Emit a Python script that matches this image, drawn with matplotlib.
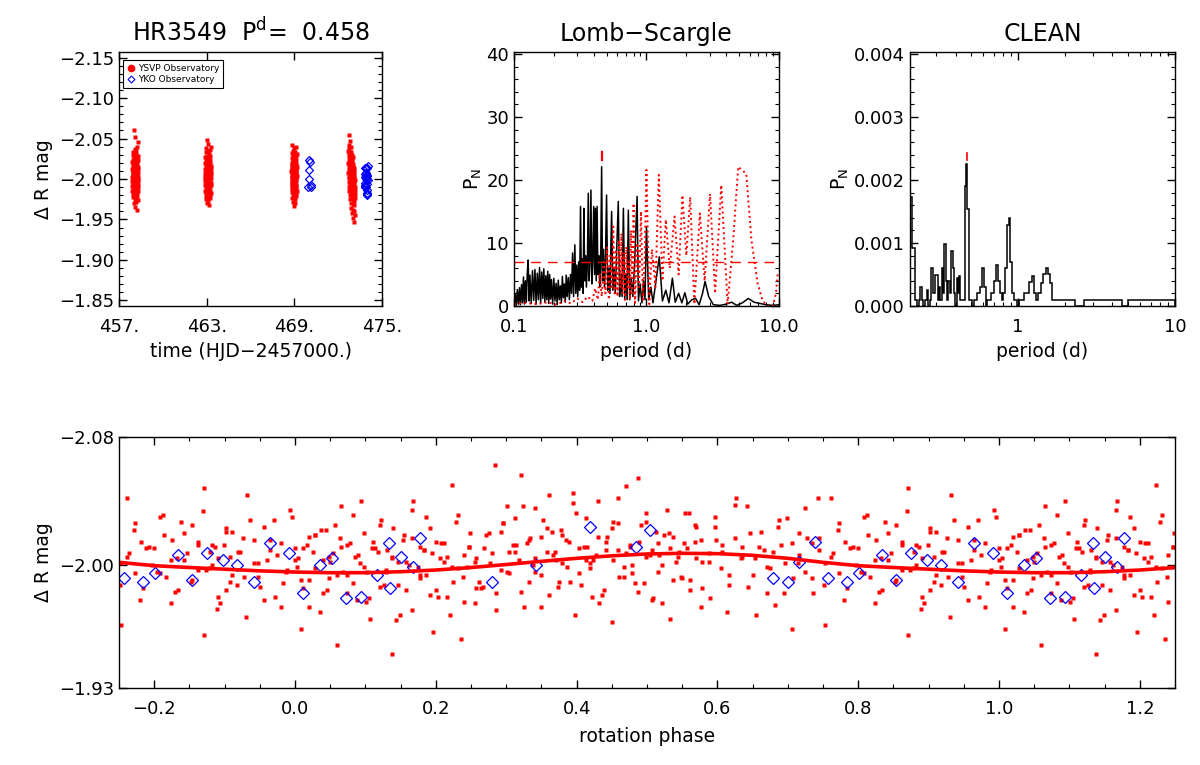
import numpy as np
import matplotlib
matplotlib.use("Agg")
import matplotlib.pyplot as plt
from matplotlib.lines import Line2D
from matplotlib.ticker import MultipleLocator, FixedLocator, FuncFormatter, LogLocator, NullFormatter

# ---------------- data ----------------
star = "HR3549"
period = 0.458          # days
t_epoch = 457.900       # HJD-2457000 of phase zero

# YSVP photometry, four nights (time = HJD-2457000, delta R mag)
n1_t = [457.900, 457.904, 457.908, 457.913, 457.917, 457.921, 457.925, 457.929, 457.934, 457.938,
        457.942, 457.946, 457.950, 457.955, 457.959, 457.963, 457.967, 457.971, 457.976, 457.980,
        457.984, 457.988, 457.992, 457.997, 458.001, 458.005, 458.009, 458.013, 458.018, 458.022,
        458.026, 458.030, 458.034, 458.039, 458.043, 458.047, 458.051, 458.055, 458.060, 458.064,
        458.068, 458.072, 458.076, 458.081, 458.085, 458.089, 458.093, 458.097, 458.102, 458.106,
        458.110, 458.114, 458.118, 458.123, 458.127, 458.131, 458.135, 458.139, 458.144, 458.148,
        458.152, 458.156, 458.160, 458.165, 458.169, 458.173, 458.177, 458.181, 458.186, 458.190,
        458.194, 458.198, 458.202, 458.207, 458.211, 458.215, 458.219, 458.223, 458.228, 458.232,
        458.236, 458.240, 458.244, 458.249, 458.253, 458.257, 458.261, 458.265, 458.270, 458.274,
        458.278, 458.282, 458.286, 458.291, 458.295, 458.299, 458.303, 458.307, 458.312, 458.316]
n1_m = [-2.003, -1.991, -2.012, -1.998, -2.021, -1.985, -2.007, -2.016, -1.994, -2.030,
        -2.001, -1.978, -2.010, -2.024, -1.996, -2.005, -1.988, -2.018, -2.033, -1.999,
        -2.009, -1.982, -2.014, -2.002, -1.970, -2.026, -1.993, -2.011, -2.004, -1.987,
        -2.019, -2.060, -1.997, -2.008, -2.028, -1.984, -2.013, -2.000, -1.975, -2.022,
        -2.006, -1.990, -2.015, -2.037, -1.995, -2.003, -1.981, -2.017, -2.009, -1.966,
        -2.025, -1.999, -2.012, -2.052, -1.989, -2.006, -2.020, -1.977, -2.010, -2.002,
        -1.992, -2.031, -2.014, -1.986, -2.007, -2.023, -1.998, -1.972, -2.016, -2.004,
        -2.035, -1.994, -2.011, -1.983, -2.008, -2.027, -2.001, -1.962, -2.019, -1.996,
        -2.013, -2.040, -1.988, -2.005, -2.021, -1.979, -2.010, -2.000, -2.029, -1.993,
        -2.015, -1.985, -2.003, -2.024, -1.997, -2.046, -2.008, -1.974, -2.012, -1.990]

n2_t = [462.880, 462.884, 462.888, 462.893, 462.897, 462.901, 462.905, 462.909, 462.914, 462.918,
        462.922, 462.926, 462.930, 462.935, 462.939, 462.943, 462.947, 462.951, 462.956, 462.960,
        462.964, 462.968, 462.972, 462.977, 462.981, 462.985, 462.989, 462.993, 462.998, 463.002,
        463.006, 463.010, 463.014, 463.019, 463.023, 463.027, 463.031, 463.035, 463.040, 463.044,
        463.048, 463.052, 463.056, 463.061, 463.065, 463.069, 463.073, 463.077, 463.082, 463.086,
        463.090, 463.094, 463.098, 463.103, 463.107, 463.111, 463.115, 463.119, 463.124, 463.128,
        463.132, 463.136, 463.140, 463.145, 463.149, 463.153, 463.157, 463.161, 463.166, 463.170,
        463.174, 463.178, 463.182, 463.187, 463.191, 463.195, 463.199, 463.203, 463.208, 463.212,
        463.216, 463.220, 463.224, 463.229, 463.233, 463.237, 463.241, 463.245, 463.250, 463.254,
        463.258, 463.262, 463.266, 463.271, 463.275, 463.279, 463.283, 463.287, 463.292, 463.296]
n2_m = [-1.997, -2.012, -2.004, -1.985, -2.020, -2.008, -1.993, -2.027, -2.001, -1.979,
        -2.015, -2.006, -1.989, -2.033, -1.999, -2.010, -1.975, -2.018, -2.003, -1.992,
        -2.024, -2.011, -1.983, -2.005, -2.038, -1.996, -2.014, -1.987, -2.009, -2.022,
        -1.970, -2.002, -2.016, -1.994, -2.029, -2.007, -1.981, -2.013, -2.048, -1.998,
        -2.006, -2.019, -1.986, -2.010, -2.001, -1.973, -2.025, -1.995, -2.012, -2.035,
        -1.990, -2.004, -2.017, -1.982, -2.008, -2.021, -1.999, -2.043, -1.988, -2.011,
        -2.003, -1.977, -2.014, -2.026, -1.993, -2.007, -2.000, -1.984, -2.031, -2.009,
        -1.996, -2.018, -1.968, -2.005, -2.013, -1.991, -2.023, -2.002, -1.980, -2.015,
        -2.008, -1.994, -2.036, -2.011, -1.987, -2.004, -2.020, -1.999, -1.976, -2.012,
        -2.028, -1.992, -2.006, -2.016, -1.983, -2.009, -2.001, -2.040, -1.995, -2.014]

n3_t = [468.800, 468.804, 468.807, 468.811, 468.814, 468.818, 468.822, 468.825, 468.829, 468.832,
        468.836, 468.840, 468.843, 468.847, 468.850, 468.854, 468.858, 468.861, 468.865, 468.868,
        468.872, 468.876, 468.879, 468.883, 468.886, 468.890, 468.894, 468.897, 468.901, 468.904,
        468.908, 468.912, 468.915, 468.919, 468.922, 468.926, 468.930, 468.933, 468.937, 468.940,
        468.944, 468.948, 468.951, 468.955, 468.958, 468.962, 468.966, 468.969, 468.973, 468.976,
        468.980, 468.984, 468.987, 468.991, 468.994, 468.998, 469.002, 469.005, 469.009, 469.012,
        469.016, 469.020, 469.023, 469.027, 469.030, 469.034, 469.038, 469.041, 469.045, 469.048,
        469.052, 469.056, 469.059, 469.063, 469.066, 469.070, 469.074, 469.077, 469.081, 469.084,
        469.088, 469.092, 469.095, 469.099, 469.102, 469.106, 469.110, 469.113, 469.117, 469.120,
        469.124, 469.128, 469.131, 469.135, 469.138, 469.142, 469.146, 469.149, 469.153, 469.156]
n3_m = [-2.010, -1.995, -2.018, -2.003, -1.984, -2.026, -2.007, -1.991, -2.014, -2.032,
        -1.998, -2.011, -1.977, -2.020, -2.005, -1.988, -2.016, -2.042, -2.001, -1.993,
        -2.023, -2.009, -1.981, -2.013, -1.996, -2.029, -2.004, -1.986, -2.017, -2.008,
        -1.972, -2.021, -2.002, -1.994, -2.035, -2.012, -1.989, -2.006, -2.019, -1.980,
        -2.010, -2.027, -1.997, -2.004, -1.967, -2.015, -2.000, -2.038, -1.992, -2.009,
        -2.022, -1.985, -2.013, -2.005, -1.999, -2.030, -1.978, -2.011, -2.002, -1.990,
        -2.018, -2.007, -1.983, -2.025, -1.996, -2.012, -2.003, -1.975, -2.016, -2.034,
        -1.994, -2.008, -2.020, -1.987, -2.001, -2.014, -1.970, -2.010, -2.028, -1.998,
        -2.006, -1.982, -2.017, -2.003, -2.040, -1.993, -2.011, -1.989, -2.024, -2.005,
        -1.979, -2.013, -2.000, -2.019, -1.991, -2.008, -2.031, -1.985, -2.004, -2.015]

n4_t = [472.690, 472.694, 472.699, 472.703, 472.708, 472.712, 472.717, 472.721, 472.726, 472.730,
        472.735, 472.739, 472.744, 472.748, 472.753, 472.757, 472.762, 472.766, 472.771, 472.775,
        472.780, 472.784, 472.789, 472.793, 472.798, 472.802, 472.807, 472.811, 472.816, 472.820,
        472.825, 472.829, 472.834, 472.838, 472.843, 472.847, 472.852, 472.856, 472.861, 472.865,
        472.870, 472.874, 472.879, 472.883, 472.888, 472.892, 472.897, 472.901, 472.906, 472.910,
        472.915, 472.919, 472.924, 472.928, 472.933, 472.937, 472.942, 472.946, 472.951, 472.955,
        472.960, 472.964, 472.969, 472.973, 472.978, 472.982, 472.987, 472.991, 472.996, 473.000,
        473.005, 473.009, 473.014, 473.018, 473.023, 473.027, 473.032, 473.036, 473.041, 473.045,
        473.050, 473.054, 473.059, 473.063, 473.068, 473.072, 473.077, 473.081, 473.086, 473.090,
        473.095, 473.099, 473.104, 473.108, 473.113, 473.117, 473.122, 473.126, 473.131, 473.135]
n4_m = [-2.020, -2.035, -2.008, -2.054, -2.015, -1.996, -2.027, -2.042, -2.003, -2.018,
        -1.990, -2.031, -2.011, -2.001, -2.038, -1.985, -2.022, -2.009, -2.047, -1.995,
        -2.014, -2.026, -1.980, -2.006, -2.033, -2.017, -1.993, -2.010, -2.024, -1.975,
        -2.002, -2.029, -2.012, -1.988, -2.040, -2.005, -2.019, -1.970, -2.009, -1.998,
        -2.023, -1.983, -2.013, -2.001, -2.034, -1.992, -2.016, -1.964, -2.007, -2.025,
        -1.986, -2.011, -1.996, -2.030, -1.977, -2.004, -2.019, -1.990, -2.012, -1.958,
        -2.000, -1.981, -2.022, -1.994, -2.008, -1.969, -2.015, -1.987, -2.003, -2.027,
        -1.975, -1.997, -2.010, -1.962, -1.991, -2.018, -1.983, -2.005, -1.952, -1.996,
        -2.013, -1.979, -1.999, -1.968, -2.008, -1.988, -1.947, -2.002, -1.985, -1.973,
        -2.011, -1.994, -1.960, -2.004, -1.981, -1.990, -1.956, -1.999, -1.977, -1.986]

# YKO photometry (two nights)
yko_t = [469.936, 469.965, 470.000, 470.030, 470.039, 470.119, 470.129,
         473.800, 473.810, 473.819, 473.831, 473.839, 473.854, 473.863, 473.873,
         473.883, 473.892, 473.903, 473.914, 473.926, 473.935, 473.946, 473.954,
         473.963, 473.973, 473.983, 473.991, 473.992, 473.999, 474.007, 474.011]
yko_m = [-1.990, -2.000, -2.023, -2.011, -2.021, -1.992, -1.990,
         -2.002, -2.014, -1.992, -1.990, -1.995, -2.006, -1.991, -2.007,
         -2.003, -2.000, -1.990, -2.013, -2.007, -1.983, -2.000, -2.004,
         -1.980, -1.981, -1.994, -2.013, -1.986, -2.005, -1.999, -2.016]

# sinusoidal fit vs rotation phase
fit_phase = [-0.25, -0.20, -0.15, -0.10, -0.05, 0.00, 0.05, 0.10, 0.15, 0.20, 0.25,
             0.30, 0.35, 0.40, 0.45, 0.50, 0.55, 0.60, 0.65, 0.70, 0.75,
             0.80, 0.85, 0.90, 0.95, 1.00, 1.05, 1.10, 1.15, 1.20, 1.25]
fit_mag = [-2.0016, -1.9996, -1.9985, -1.9975, -1.9965, -1.9958, -1.9954, -1.9954, -1.9960, -1.9970, -1.9985,
           -2.0003, -2.0022, -2.0040, -2.0055, -2.0066, -2.0070, -2.0068, -2.0058, -2.0040, -2.0016,
           -1.9996, -1.9985, -1.9975, -1.9965, -1.9958, -1.9954, -1.9954, -1.9960, -1.9970, -1.9985]

# Lomb-Scargle periodogram
ls_period = [0.100, 0.102, 0.104, 0.106, 0.108, 0.110, 0.112, 0.114, 0.116, 0.118,
             0.120, 0.122, 0.124, 0.126, 0.128, 0.130, 0.132, 0.135, 0.138, 0.141,
             0.144, 0.147, 0.150, 0.153, 0.156, 0.159, 0.162, 0.165, 0.168, 0.171,
             0.174, 0.177, 0.180, 0.183, 0.186, 0.189, 0.192, 0.196, 0.200, 0.204,
             0.208, 0.212, 0.216, 0.220, 0.224, 0.228, 0.232, 0.236, 0.240, 0.244,
             0.248, 0.252, 0.257, 0.262, 0.267, 0.272, 0.277, 0.282, 0.288, 0.293,
             0.298, 0.303, 0.308, 0.313, 0.318, 0.323, 0.328, 0.333, 0.337, 0.342,
             0.347, 0.352, 0.358, 0.364, 0.369, 0.375, 0.381, 0.387, 0.393, 0.400,
             0.406, 0.412, 0.418, 0.424, 0.430, 0.437, 0.444, 0.451, 0.459, 0.466,
             0.474, 0.482, 0.490, 0.500, 0.510, 0.520, 0.530, 0.546, 0.558, 0.570,
             0.582, 0.597, 0.613, 0.627, 0.640, 0.655, 0.670, 0.685, 0.700, 0.715,
             0.730, 0.748, 0.768, 0.790, 0.815, 0.850, 0.870, 0.895, 0.925, 0.950,
             0.975, 1.000, 1.040, 1.080, 1.120, 1.180, 1.250, 1.320, 1.400, 1.480,
             1.570, 1.650, 1.750, 1.850, 1.950, 2.050, 2.200, 2.350, 2.500, 2.650,
             2.770, 2.950, 3.200, 3.600, 4.000, 4.400, 4.800, 5.300, 5.870, 6.500,
             7.200, 8.000, 9.000, 10.00]
ls_power = [0.2, 1.8, 0.1, 2.6, 0.3, 2.9, 0.2, 3.4, 0.5, 4.6,
            0.3, 4.0, 0.6, 5.1, 7.3, 0.8, 4.9, 0.4, 5.6, 0.9,
            5.8, 0.3, 5.2, 1.0, 6.1, 0.5, 5.4, 1.2, 5.9, 0.6,
            4.8, 1.0, 5.5, 0.4, 5.0, 1.1, 4.2, 0.3, 4.4, 0.8,
            3.6, 0.2, 4.1, 1.0, 3.2, 0.5, 4.7, 1.3, 3.5, 0.6,
            4.9, 1.5, 4.5, 1.0, 5.0, 2.0, 8.4, 1.5, 9.7, 2.0,
            6.5, 1.5, 7.0, 2.5, 15.8, 3.0, 7.5, 2.0, 15.5, 4.0,
            8.0, 3.0, 6.5, 17.9, 4.0, 7.0, 18.4, 3.5, 7.0, 15.8,
            5.0, 15.5, 4.0, 15.8, 5.0, 8.0, 3.0, 6.0, 22.1, 4.0,
            9.0, 3.0, 7.0, 17.6, 2.5, 6.0, 2.0, 15.0, 2.5, 6.0,
            2.0, 9.0, 16.6, 1.5, 5.0, 1.5, 15.5, 1.0, 5.0, 1.0,
            15.2, 1.0, 4.5, 1.5, 7.0, 17.4, 0.8, 3.5, 0.5, 4.0,
            1.0, 12.6, 1.0, 3.0, 0.5, 4.0, 7.8, 0.8, 2.5, 0.5,
            4.4, 0.6, 2.0, 0.5, 2.1, 0.3, 1.0, 1.2, 0.2, 2.0,
            3.9, 1.5, 0.2, 0.1, 0.3, 0.6, 0.1, 0.5, 1.2, 0.6,
            0.4, 0.2, 0.1, 0.2]

# spectral window (red dotted)
win_period = [0.100, 0.120, 0.150, 0.180, 0.210, 0.240, 0.270, 0.300, 0.330, 0.360,
              0.390, 0.410, 0.430, 0.445, 0.460, 0.475, 0.490, 0.505, 0.520, 0.535,
              0.550, 0.562, 0.575, 0.590, 0.605, 0.620, 0.635, 0.647, 0.660, 0.675,
              0.690, 0.705, 0.720, 0.735, 0.750, 0.765, 0.780, 0.800, 0.820, 0.850,
              0.880, 0.910, 0.940, 0.970, 1.000, 1.050, 1.100, 1.170, 1.240, 1.320,
              1.400, 1.500, 1.630, 1.750, 1.870, 2.000, 2.140, 2.300, 2.530, 2.750,
              3.020, 3.300, 3.670, 4.100, 4.500, 4.930, 5.300, 5.670, 6.200, 6.900,
              7.500, 8.100, 9.000, 9.500, 9.800]
win_power = [0.3, 0.5, 0.3, 0.6, 0.2, 0.8, 0.4, 1.2, 0.6, 1.5,
             0.8, 2.8, 1.0, 5.2, 1.5, 7.0, 2.0, 9.4, 1.0, 8.0,
             3.0, 12.6, 2.0, 9.0, 1.5, 10.5, 3.0, 11.5, 2.0, 8.5,
             1.0, 9.4, 3.0, 7.0, 1.0, 12.0, 2.0, 16.3, 0.5, 10.0,
             3.0, 15.0, 1.0, 8.0, 21.6, 0.3, 9.0, 3.0, 20.8, 4.0,
             13.7, 6.0, 14.2, 5.0, 17.6, 8.0, 17.3, 0.3, 14.7, 4.0,
             17.8, 2.0, 19.2, 0.3, 10.0, 22.1, 21.5, 21.0, 10.5, 3.6,
             1.0, 0.0, 0.0, 2.0, 5.2]
ls_fap_level = 7.0
ls_mark = [23.2, 24.4]

# CLEAN periodogram (step edges in days, power)
clean_edges = [0.205, 0.212, 0.221, 0.227, 0.233, 0.238, 0.244, 0.250, 0.256, 0.262,
               0.268, 0.275, 0.281, 0.288, 0.296, 0.302, 0.308, 0.314, 0.320, 0.326,
               0.332, 0.340, 0.346, 0.353, 0.360, 0.368, 0.375, 0.383, 0.390, 0.398,
               0.407, 0.415, 0.423, 0.430, 0.438, 0.448, 0.457, 0.466, 0.476, 0.487,
               0.498, 0.510, 0.522, 0.535, 0.548, 0.562, 0.577, 0.592, 0.607, 0.622,
               0.638, 0.655, 0.672, 0.690, 0.708, 0.727, 0.746, 0.766, 0.786, 0.806,
               0.827, 0.849, 0.871, 0.894, 0.917, 0.941, 0.966, 0.991, 1.02, 1.06,
               1.10, 1.14, 1.18, 1.22, 1.26, 1.30, 1.35, 1.40, 1.45, 1.50,
               1.55, 1.60, 1.65, 1.72, 2.31, 2.64, 4.60, 5.00, 10.0]
clean_power = [0.00173, 0.00092, 0.00009, 0.0, 0.00009, 0.0003, 0.00009, 0.0, 0.00009, 0.00025,
               0.0, 0.00009, 0.0006, 0.0002, 0.00049, 0.00049, 0.0001, 0.0003, 0.0001, 0.0006,
               0.0002, 0.00099, 0.0004, 0.0001, 0.0004, 0.0002, 0.00088, 0.0006, 0.0002, 0.0,
               0.00045, 0.0002, 0.00047, 0.0001, 0.00009, 0.0001, 0.0019, 0.00225, 0.00154, 0.0001,
               0.00009, 0.0, 0.00009, 0.0001, 0.0002, 0.0002, 0.0003, 0.0006, 0.0003, 0.0,
               0.00009, 0.0001, 0.0002, 0.0002, 0.0004, 0.00065, 0.0004, 0.0002, 0.0001, 0.0002,
               0.0006, 0.00128, 0.0014, 0.0007, 0.0002, 0.0001, 0.00009, 0.0, 0.0001, 0.00009,
               0.0002, 0.0002, 0.00038, 0.00047, 0.0002, 0.0001, 0.0002, 0.00037, 0.0005, 0.0006,
               0.0005, 0.00037, 0.0001, 0.00009, 0.0, 0.00009, 0.0, 0.00009]
clean_mark = [0.00231, 0.00242]
clean_mark_period = 0.471

# ---------------- plotting ----------------
plt.rcParams['font.family'] = ['DejaVu Sans']
plt.rcParams['mathtext.fontset'] = 'dejavusans'

red_t = np.concatenate([n1_t, n2_t, n3_t, n4_t])
red_m = np.concatenate([n1_m, n2_m, n3_m, n4_m])
red_phase = ((red_t - t_epoch) / period) % 1.0
yko_phase = ((np.array(yko_t) - t_epoch) / period) % 1.0


def minus(fmt):
    return FuncFormatter(lambda v, _: format(v, fmt).replace('-', '\u2212'))


def style(ax):
    ax.tick_params(which='both', direction='in', top=True, right=True, labelsize=13)
    ax.tick_params(which='major', length=6, width=1)
    ax.tick_params(which='minor', length=3, width=0.8)
    ax.tick_params(axis='x', pad=9)
    for s in ax.spines.values():
        s.set_linewidth(1)


fig = plt.figure(figsize=(12, 7.65), dpi=100)
ax1 = fig.add_axes([0.0992, 0.600, 0.2192, 0.332])
ax2 = fig.add_axes([0.4283, 0.600, 0.2208, 0.332])
ax3 = fig.add_axes([0.7583, 0.600, 0.2208, 0.332])
ax4 = fig.add_axes([0.0992, 0.1007, 0.8800, 0.328])

# light curve vs time
ax1.plot(red_t, red_m, 's', color='red', ms=2.6, mec='none')
ax1.plot(yko_t, yko_m, 'D', mfc='none', mec='blue', ms=4, mew=0.9)
ax1.set_xlim(457, 475)
ax1.set_ylim(-1.843, -2.157)
ax1.xaxis.set_major_locator(FixedLocator([457, 463, 469, 475]))
ax1.xaxis.set_major_formatter(FuncFormatter(lambda v, _: f"{v:.0f}."))
ax1.yaxis.set_major_locator(MultipleLocator(0.05))
ax1.yaxis.set_minor_locator(MultipleLocator(0.01))
ax1.yaxis.set_major_formatter(minus('.2f'))
style(ax1)
ax1.set_xlabel("time (HJD\u22122457000.)", fontsize=13.5)
ax1.set_ylabel("\u0394 R mag", fontsize=13.5)
ax1.set_title(f"{star}  P$^{{\\rm d}}$=  {period:.3f}", fontsize=17, pad=8)
handles = [Line2D([], [], ls='none', marker='o', color='red', ms=4.5, mec='red'),
           Line2D([], [], ls='none', marker='D', mfc='none', mec='blue', ms=3.5, mew=0.8)]
leg = ax1.legend(handles, ["YSVP Observatory", "YKO Observatory"], loc='upper left',
                 bbox_to_anchor=(0.015, 0.97), fontsize=6.5, handlelength=0.8, handletextpad=0.4,
                 borderpad=0.45, labelspacing=0.25, fancybox=False, framealpha=1, borderaxespad=0)
leg.get_frame().set_edgecolor('black')
leg.get_frame().set_linewidth(0.8)

# Lomb-Scargle
ax2.plot(ls_period, ls_power, color='black', lw=1.1)
ax2.plot(win_period, win_power, color='red', ls=':', lw=1.4)
ax2.axhline(ls_fap_level, color='red', ls=(0, (7, 5)), lw=1)
ax2.plot([period, period], ls_mark, color='red', lw=1.6)
ax2.set_xscale('log')
ax2.set_xlim(0.1, 10)
ax2.set_ylim(0, 40.3)
ax2.xaxis.set_major_locator(FixedLocator([0.1, 1, 10]))
ax2.xaxis.set_major_formatter(FuncFormatter(lambda v, _: f"{v:.1f}"))
ax2.xaxis.set_minor_locator(LogLocator(base=10, subs=np.arange(2, 10)))
ax2.xaxis.set_minor_formatter(NullFormatter())
ax2.yaxis.set_major_locator(MultipleLocator(10))
ax2.yaxis.set_minor_locator(MultipleLocator(2))
style(ax2)
ax2.set_xlabel("period (d)", fontsize=13.5)
ax2.set_ylabel("P$_{\\rm N}$", fontsize=13.5, labelpad=2)
ax2.set_title("Lomb\u2212Scargle", fontsize=17, pad=8)

# CLEAN
ax3.stairs(clean_power, clean_edges, color='black', lw=1.1)
ax3.plot([clean_mark_period, clean_mark_period], clean_mark, color='red', lw=1.2)
ax3.set_xscale('log')
ax3.set_xlim(0.205, 10)
ax3.set_ylim(0, 0.00403)
ax3.xaxis.set_major_locator(FixedLocator([1, 10]))
ax3.xaxis.set_major_formatter(FuncFormatter(lambda v, _: f"{v:.0f}"))
ax3.xaxis.set_minor_locator(LogLocator(base=10, subs=np.arange(2, 10)))
ax3.xaxis.set_minor_formatter(NullFormatter())
ax3.yaxis.set_major_locator(MultipleLocator(0.001))
ax3.yaxis.set_minor_locator(MultipleLocator(0.0002))
ax3.yaxis.set_major_formatter(minus('.3f'))
style(ax3)
ax3.set_xlabel("period (d)", fontsize=13.5)
ax3.set_ylabel("P$_{\\rm N}$", fontsize=13.5, labelpad=2)
ax3.set_title("CLEAN", fontsize=17, pad=8)

# phased light curve
for shift in (-1, 0, 1):
    ax4.plot(red_phase + shift, red_m, 's', color='red', ms=3.0, mec='none')
for shift in (-1, 0, 1):
    ax4.plot(yko_phase + shift, yko_m, 'D', mfc='none', mec='blue', ms=6, mew=0.9)
ax4.plot(fit_phase, fit_mag, color='red', lw=2.6)
ax4.set_xlim(-0.25, 1.25)
ax4.set_ylim(-1.9265, -2.0765)
ax4.xaxis.set_major_locator(MultipleLocator(0.2))
ax4.xaxis.set_minor_locator(MultipleLocator(0.05))
ax4.xaxis.set_major_formatter(minus('.1f'))
ax4.yaxis.set_major_locator(FixedLocator([-2.0765, -2.0, -1.9265]))
ax4.yaxis.set_major_formatter(minus('.2f'))
style(ax4)
ax4.set_xlabel("rotation phase", fontsize=13.5, labelpad=6)
ax4.set_ylabel("\u0394 R mag", fontsize=13.5)

fig.savefig("out.png", dpi=100)
